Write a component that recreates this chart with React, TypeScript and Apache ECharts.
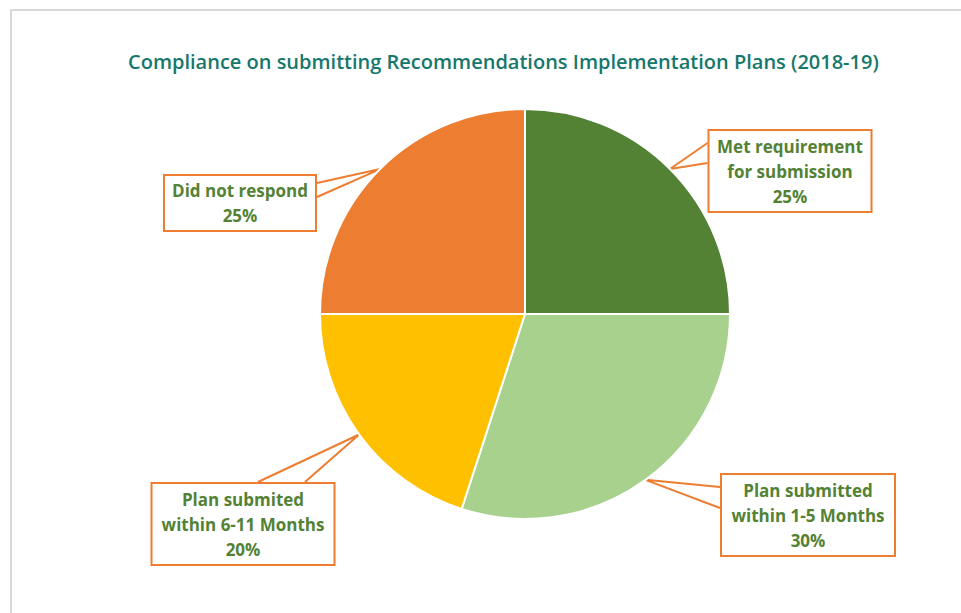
import React, { useEffect, useRef } from "react";
import * as echarts from "echarts";

const categories = [
  "Met requirement\nfor submission",
  "Plan submitted\nwithin 1-5 Months",
  "Plan submited\nwithin 6-11 Months",
  "Did not respond",
];
const values = [25, 30, 20, 25];
const colors = ["#548235", "#A9D18E", "#FFC000", "#ED7D31"];
const title = "Compliance on submitting Recommendations Implementation Plans (2018-19)";

// label box layout: center x, center y, width, height, wedge side, wedge start/end offsets
const labelBoxes = [
  { cx: 790, cy: 171, w: 165, h: 84, side: "left", a: 143, b: 163 },
  { cx: 808, cy: 515, w: 176, h: 84, side: "left", a: 487, b: 508 },
  { cx: 243, cy: 524, w: 185, h: 84, side: "top", a: 258, b: 305 },
  { cx: 240, cy: 203, w: 154, h: 58, side: "right", a: 183, b: 197 },
];

const CX = 525;
const CY = 314;
const R = 205;

export default function App() {
  const ref = useRef<HTMLDivElement>(null);
  useEffect(() => {
    if (!ref.current) return;
    const chart = echarts.init(ref.current, null, { renderer: "svg" });
    const data = categories.map((name, i) => ({
      name,
      value: values[i],
      itemStyle: { color: colors[i] },
      label: { width: labelBoxes[i].w - 4, height: labelBoxes[i].h - 4 },
    }));
    chart.setOption({
      animation: false,
      backgroundColor: "#ffffff",
      title: {
        text: title,
        left: 123,
        top: 46,
        textStyle: {
          fontFamily: "Open Sans",
          fontSize: 20,
          fontWeight: 600,
          color: "#16776C",
        },
      },
      graphic: [
        {
          type: "rect",
          shape: { x: 11, y: 10, width: 1000, height: 700 },
          style: { fill: "none", stroke: "#D9D9D9", lineWidth: 2 },
          silent: true,
        },
      ],
      series: [
        {
          type: "pie",
          center: [CX, CY],
          radius: [0, R],
          startAngle: 90,
          clockwise: true,
          data,
          itemStyle: { borderColor: "#ffffff", borderWidth: 2 },
          label: {
            show: true,
            position: "outside",
            formatter: (p: any) => `${p.name}\n${p.value}%`,
            fontFamily: "Open Sans",
            fontSize: 17,
            fontWeight: "bold",
            color: "#548235",
            lineHeight: 25,
            align: "center",
            verticalAlign: "middle",
            backgroundColor: "#ffffff",
            borderColor: "#ED7D31",
            borderWidth: 2,
            padding: 0,
          },
          labelLine: {
            show: true,
            lineStyle: { color: "#ED7D31", width: 2 },
            length: 10,
            length2: 10,
          },
          labelLayout: (params: any) => {
            const i = params.dataIndex;
            const box = labelBoxes[i];
            let tip: number[];
            if (params.labelLinePoints && params.labelLinePoints[0]) {
              tip = params.labelLinePoints[0];
            } else {
              const total = values.reduce((s, v) => s + v, 0);
              let acc = 0;
              for (let k = 0; k < i; k++) acc += values[k];
              const mid = ((acc + values[i] / 2) / total) * Math.PI * 2;
              tip = [CX + R * Math.sin(mid), CY - R * Math.cos(mid)];
            }
            const left = box.cx - box.w / 2;
            const right = box.cx + box.w / 2;
            const top = box.cy - box.h / 2;
            let A: number[];
            let B: number[];
            if (box.side === "left") {
              A = [left, box.a];
              B = [left, box.b];
            } else if (box.side === "right") {
              A = [right, box.a];
              B = [right, box.b];
            } else {
              A = [box.a, top];
              B = [box.b, top];
            }
            return {
              x: box.cx,
              y: box.cy,
              align: "center",
              verticalAlign: "middle",
              labelLinePoints: [A, tip, B],
            };
          },
        },
      ],
    });
    return () => chart.dispose();
  }, []);
  return (
    <div
      ref={ref}
      style={{ position: "fixed", left: 0, top: 0, width: 961, height: 613 }}
    />
  );
}
